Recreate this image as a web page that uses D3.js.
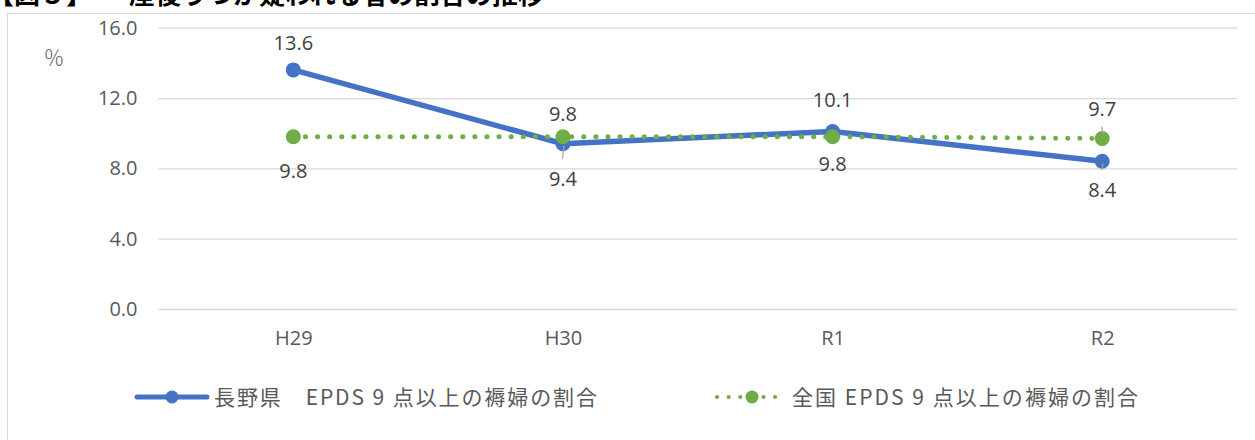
<!DOCTYPE html>
<html lang="ja">
<head>
<meta charset="utf-8">
<script src="https://cdn.jsdelivr.net/npm/d3@7"></script>
<style>
  html, body { margin: 0; padding: 0; background: #ffffff; overflow: hidden; }
  svg { display: block; }
</style>
</head>
<body>
<svg id="chart" width="1255" height="440"></svg>
<script>
// ---- data ----
const categories = ["H29", "H30", "R1", "R2"];
const naganoValues = [13.6, 9.4, 10.1, 8.4];
const nationalValues = [9.8, 9.8, 9.8, 9.7];
const yTickValues = [0, 4, 8, 12, 16];
const seriesNames = ["長野県　EPDS 9 点以上の褥婦の割合", "全国 EPDS 9 点以上の褥婦の割合"];
const titleParts = ["【図５】", "産後うつが疑われる者の割合の推移"];
const unitLabel = "％";

// ---- layout ----
const plot = { left: 158.5, right: 1237, top: 27.7, bottom: 309 };
const BLUE = "#4472c4", GREEN = "#70ad47";
const NUM_FONT = "'Open Sans', 'Liberation Sans', sans-serif";
const JP_FONT = "'Noto Sans CJK JP', 'Noto Sans', sans-serif";
// vertical placement of value labels relative to their points (label centre)
const naganoLabelDy = [-27, 35, -31, 29];
const nationalLabelDy = [34, -23, 27, -29];

const svg = d3.select("#chart");

// outer chart frame (extends past the visible area on the right and bottom)
svg.append("rect")
  .attr("x", 7.5).attr("y", 13.5)
  .attr("width", 1300).attr("height", 500)
  .attr("fill", "#ffffff").attr("stroke", "#d9d9d9").attr("stroke-width", 1);

// title, partly above the frame
const title = svg.append("g").attr("font-family", JP_FONT)
  .attr("font-weight", "bold").attr("font-size", 26).attr("fill", "#000000");
title.append("text").attr("x", -12).attr("y", 4).text(titleParts[0]);
title.append("text").attr("x", 129).attr("y", 4).text(titleParts[1]);

const x = d3.scalePoint().domain(categories).range([plot.left, plot.right]).padding(0.5);
const y = d3.scaleLinear().domain([0, 16]).range([plot.bottom, plot.top]);

// horizontal gridlines + value axis labels
const yAxis = svg.append("g")
  .attr("transform", `translate(${plot.left},0)`)
  .call(d3.axisLeft(y).tickValues(yTickValues).tickFormat(d3.format(".1f"))
    .tickSize(-(plot.right - plot.left)).tickPadding(21));
yAxis.select(".domain").remove();
yAxis.selectAll(".tick line").attr("stroke", "#d9d9d9").attr("stroke-width", 1.3);
yAxis.selectAll(".tick text")
  .attr("font-family", NUM_FONT).attr("font-size", 20).attr("fill", "#595959");

// category axis labels
const xAxis = svg.append("g")
  .attr("transform", `translate(0,${plot.bottom})`)
  .call(d3.axisBottom(x).tickSize(0).tickPadding(22));
xAxis.select(".domain").remove();
xAxis.selectAll(".tick text")
  .attr("font-family", NUM_FONT).attr("font-size", 20).attr("fill", "#595959");

// unit label
svg.append("text").attr("x", 54).attr("y", 65).attr("text-anchor", "middle")
  .attr("font-family", JP_FONT).attr("font-weight", 300).attr("font-size", 21).attr("fill", "#595959")
  .text(unitLabel);

const lineGen = d3.line().x((d, i) => x(categories[i])).y(d => y(d));

// 長野県 series: solid line with circle markers
svg.append("path").datum(naganoValues)
  .attr("d", lineGen).attr("fill", "none")
  .attr("stroke", BLUE).attr("stroke-width", 5.5).attr("stroke-linejoin", "round");
svg.append("g").selectAll("circle").data(naganoValues).join("circle")
  .attr("cx", (d, i) => x(categories[i])).attr("cy", d => y(d)).attr("r", 7.5)
  .attr("fill", BLUE);

// 全国 series: round-dot line with circle markers
svg.append("path").datum(nationalValues)
  .attr("d", lineGen).attr("fill", "none")
  .attr("stroke", GREEN).attr("stroke-width", 5)
  .attr("stroke-linecap", "round").attr("stroke-dasharray", "0.1 12");
svg.append("g").selectAll("circle").data(nationalValues).join("circle")
  .attr("cx", (d, i) => x(categories[i])).attr("cy", d => y(d)).attr("r", 7.5)
  .attr("fill", GREEN);

// value labels, with short leader lines where labels sit further away
function addLabels(values, offsets) {
  values.forEach((v, i) => {
    const cx = x(categories[i]), cy = y(v), ly = cy + offsets[i];
    if (Math.abs(offsets[i]) >= 29 && i % 2 === 1) {
      const from = offsets[i] > 0 ? cy + 2 : cy - 4;
      const to = offsets[i] > 0 ? ly - 20 : ly + 17;
      svg.append("line").attr("x1", cx + 1).attr("y1", from).attr("x2", cx - 0.5).attr("y2", to)
        .attr("stroke", "#a6a6a6").attr("stroke-width", 1.2);
    }
    svg.append("text").attr("x", cx).attr("y", ly + 7).attr("text-anchor", "middle")
      .attr("font-family", NUM_FONT).attr("font-size", 20).attr("fill", "#404040")
      .text(d3.format(".1f")(v));
  });
}
addLabels(naganoValues, naganoLabelDy);
addLabels(nationalValues, nationalLabelDy);

// legend
const legendY = 397;
const lg = svg.append("g");
lg.append("line").attr("x1", 137).attr("x2", 207).attr("y1", legendY).attr("y2", legendY)
  .attr("stroke", BLUE).attr("stroke-width", 5).attr("stroke-linecap", "round");
lg.append("circle").attr("cx", 172).attr("cy", legendY).attr("r", 6.5).attr("fill", BLUE);
lg.append("text").attr("x", 214).attr("y", legendY + 8)
  .attr("font-family", JP_FONT).attr("font-size", 21).attr("fill", "#595959")
  .attr("textLength", 383).attr("lengthAdjust", "spacing")
  .text(seriesNames[0]);

lg.append("line").attr("x1", 717).attr("x2", 779).attr("y1", legendY).attr("y2", legendY)
  .attr("stroke", GREEN).attr("stroke-width", 4)
  .attr("stroke-linecap", "round").attr("stroke-dasharray", "0.1 11.5");
lg.append("circle").attr("cx", 752).attr("cy", legendY).attr("r", 6.5).attr("fill", GREEN);
lg.append("text").attr("x", 792).attr("y", legendY + 8)
  .attr("font-family", JP_FONT).attr("font-size", 21).attr("fill", "#595959")
  .attr("textLength", 346).attr("lengthAdjust", "spacing")
  .text(seriesNames[1]);
</script>
</body>
</html>
